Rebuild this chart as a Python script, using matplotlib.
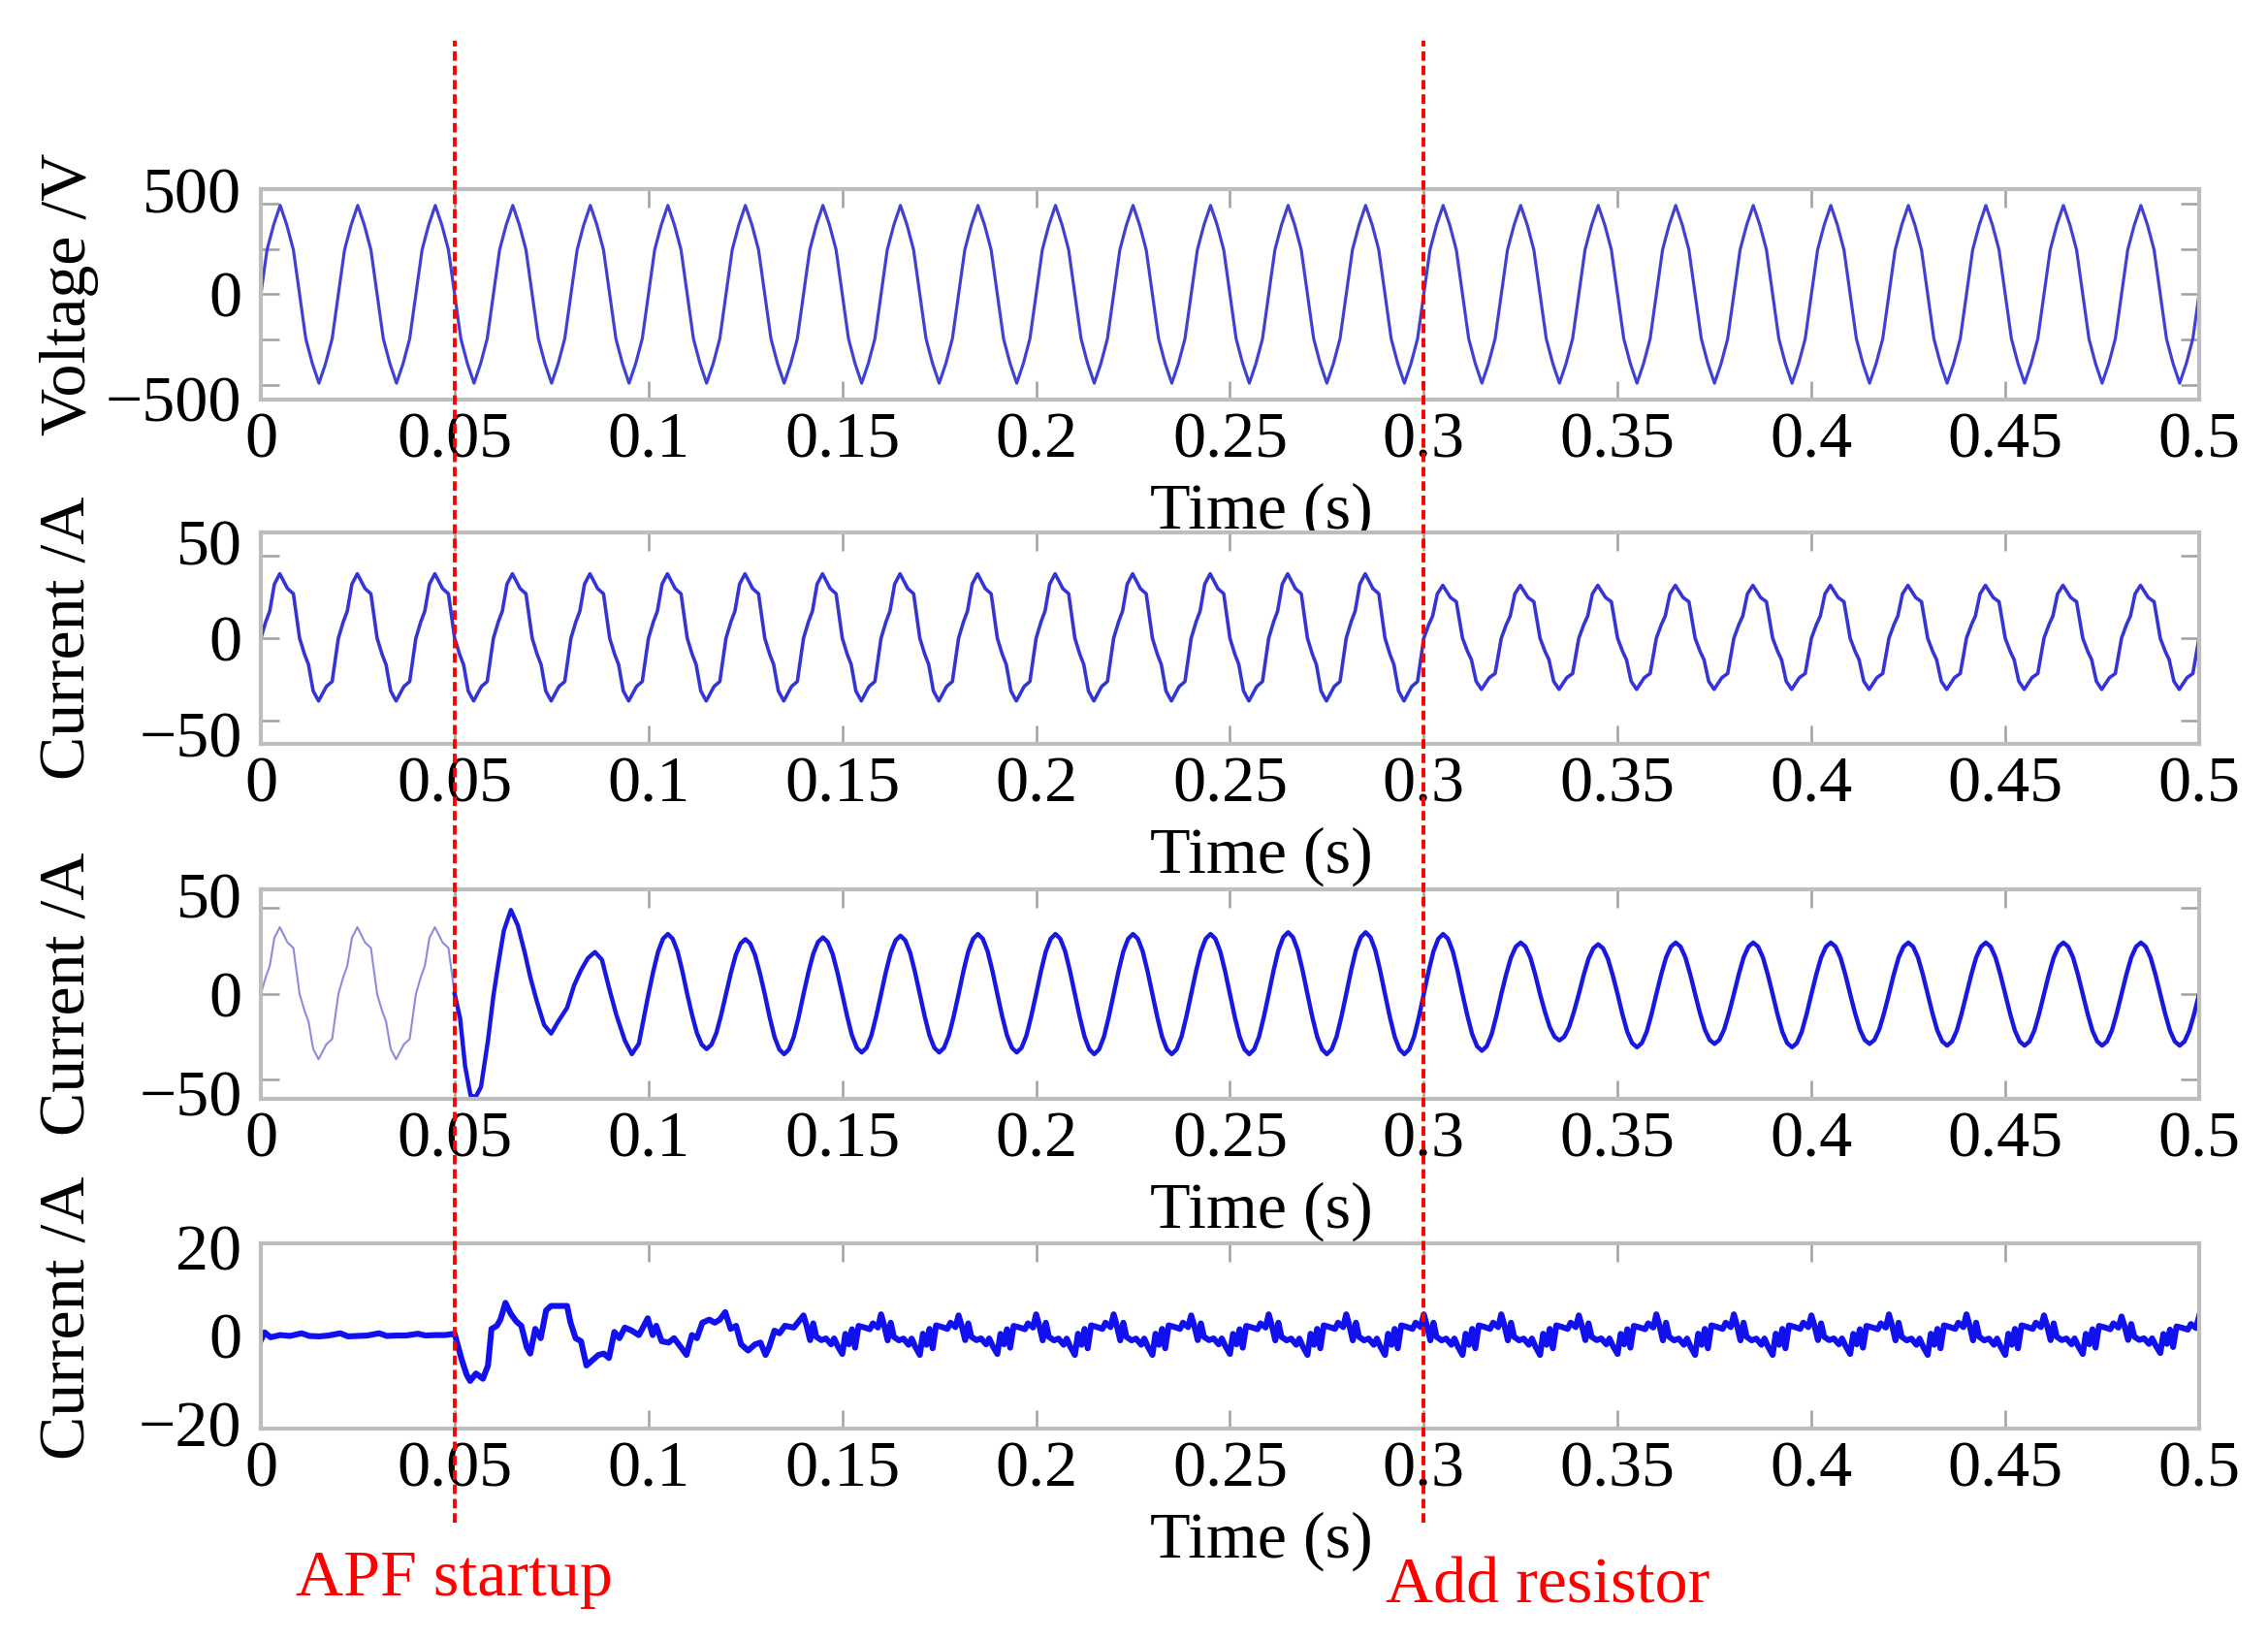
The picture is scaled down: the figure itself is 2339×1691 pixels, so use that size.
import numpy as np
import matplotlib.pyplot as plt
from matplotlib.lines import Line2D
from matplotlib.transforms import ScaledTranslation, blended_transform_factory

plt.rcParams['font.family'] = ['Liberation Serif', 'DejaVu Serif']
plt.rcParams['font.size'] = 49

PERIOD = 0.02  # 50 Hz grid

# ---- grid voltage: one period (ms, per unit of peak) ----
volt_shape_ms = [0, 1.6, 3.3, 5.0, 6.7, 8.4, 10.0, 11.6, 13.3, 15.0, 16.7, 18.4]
volt_shape_pu = [0, 0.5, 0.78, 1.0, 0.78, 0.5, 0, -0.5, -0.78, -1.0, -0.78, -0.5]
volt_pos_peak = [490, 490, 490, 490, 490, 490, 490, 490, 490, 490, 490, 490, 490,
                 490, 490, 490, 490, 490, 490, 490, 490, 490, 490, 490, 490]
volt_neg_peak = [490, 490, 490, 490, 490, 490, 490, 490, 490, 490, 490, 490, 490,
                 490, 490, 490, 490, 490, 490, 490, 490, 490, 490, 490, 490]

# ---- load current (rectifier load), one period shape + peaks per cycle ----
load_shape_ms = [0, 1.3, 2.3, 3.5, 4.9, 6.9, 8.4, 10.0, 11.3, 12.3, 13.5, 14.9, 16.9, 18.4]
load_shape_pu = [0, 0.26, 0.42, 0.84, 1.0, 0.77, 0.69, 0, -0.26, -0.42, -0.84, -1.0, -0.77, -0.69]
load_pos_peak = [39, 39, 39, 39, 39, 39, 39, 39, 39, 39, 39, 39, 39, 39, 39,
                 32, 32, 32, 32, 32, 32, 32, 32, 32, 32]
load_neg_peak = [38, 38, 38, 38, 38, 38, 38, 38, 38, 38, 38, 38, 38, 38, 38,
                 31, 31, 31, 31, 31, 31, 31, 31, 31, 31]

# ---- source current after APF startup ----
src_tr_ms = [50, 51.4, 52.7, 54.1, 55.4, 56.8, 58.6, 60.0, 61.3, 62.7, 64.5, 66.3, 68.1,
             69.5, 71.3, 73.1, 74.9, 76.7, 79.0, 80.8, 82.6, 84.4, 86.2, 88.0, 89.9,
             91.7, 93.9, 95.7, 97.5]
src_tr_a = [0, -14, -42, -59, -60, -54, -27, -1, 18, 37, 49, 40, 24, 10, -5, -18, -23,
            -16, -8, 5, 14, 21, 24.5, 20, 3, -12, -27, -35, -29]
src_shape_ms = [0, 1.25, 2.5, 3.75, 5.0, 6.25, 7.5, 8.75, 10.0, 11.25, 12.5, 13.75,
                15.0, 16.25, 17.5, 18.75]
src_shape_pu = [0, 0.38, 0.71, 0.92, 1.0, 0.92, 0.71, 0.38, 0, -0.38, -0.71, -0.92,
                -1.0, -0.92, -0.71, -0.38]
src_first_cycle = 5
src_pos_peak = [35, 32, 33, 34, 35, 35, 35, 35, 36, 36, 35, 30, 29, 30, 30, 30, 30, 30, 30, 30]
src_neg_peak = [32, 35, 34, 34, 34, 35, 35, 35, 35, 35, 33, 27, 31, 29, 31, 29, 30, 30, 30, 30]

# ---- compensation current ----
comp_tr_ms = [0, 1, 2.5, 5, 7.5, 10.5, 12.5, 15, 17.5, 20.5, 22.5, 25, 27.5, 30.5, 32.5,
              35, 37.5, 40.5, 42.5, 45, 47.5, 50,
              51.8, 53.1, 54.0, 55.5, 57.3, 58.6, 59.5, 60.9, 61.8, 63.1, 64.5, 65.9,
              67.2, 68.6, 69.5, 70.8, 72.2, 73.6, 74.9, 76.7, 79.0, 79.9, 81.2, 82.6,
              84.0, 85.3, 87.1, 88.5, 89.8, 91.2, 92.5, 93.9, 95.7, 97.5, 98.4, 99.8,
              101.1, 102.0, 103.4, 105.2, 106.6, 108.4, 109.8, 111.2, 112.5, 113.9,
              115.7, 117.1, 118.4, 119.8, 121.2, 122.6, 123.9, 125.7, 127.5, 128.9,
              130.2, 131.1, 132.5, 133.8, 135.2, 137.5]
comp_tr_a = [-1.0, 0.8, -0.3, 0.2, 0.0, 0.6, 0.0, -0.1, 0.1, 0.6, -0.1, 0.0, 0.1, 0.6, 0.0,
             0.1, 0.1, 0.5, 0.1, 0.2, 0.2, 0.5,
             -5.3, -8.8, -10.2, -8.5, -9.7, -6.7, 1.6, 2.3, 3.7, 7.5, 5.0, 3.3,
             2.3, -2.6, -4.0, 1.6, -0.5, 5.8, 6.8, 6.8, 6.8, 3.0, -0.5, -1.2,
             -6.7, -5.7, -4.3, -4.0, -5.0, 0.9, -0.5, 1.9, 1.2, 0.2, 1.6, 4.0,
             0.2, 2.3, -1.2, -1.5, -0.5, -2.6, -4.3, 0.2, -0.5, 3.0,
             3.7, 3.0, 3.7, 5.4, 1.6, 2.3, -1.9, -3.3, -1.9, -1.5,
             -4.3, -2.6, 1.2, 0.6, 2.3, 1.9]
ripple_shape_ms = [0, 0.8, 1.7, 2.5, 3.3, 4.6, 5.8, 7.1, 7.9, 8.8, 10.0, 10.8, 11.7,
                   12.5, 13.3, 14.2, 15.8, 17.1, 17.9, 19.2]
ripple_shape_a = [4.9, 2.4, -1.0, 3.0, -0.2, -1.0, -0.6, -2.0, -0.6, -2.4, -4.3, 0.5, -2.0,
                  1.6, -2.8, 2.4, 2.0, 1.6, 3.0, 2.0]
ripple_first_cycle = 7
ripple_scale = [0.95, 1.0, 0.95, 1.0, 1.0, 0.95, 1.0, 1.0, 1.0, 1.0, 0.95, 1.0,
                1.0, 0.95, 1.0, 1.0, 0.95, 0.9]

x_ticks = [0, 0.05, 0.1, 0.15, 0.2, 0.25, 0.3, 0.35, 0.4, 0.45, 0.5]
x_tick_labels = ['0', '0.05', '0.1', '0.15', '0.2', '0.25', '0.3', '0.35', '0.4', '0.45', '0.5']
t_startup = 0.05
t_resistor = 0.3


def build_cycles(first, shape_ms, shape_pu, pos, neg):
    t, y = [], []
    for k, (pp, nn) in enumerate(zip(pos, neg)):
        t0 = (first + k) * PERIOD
        for ms, pu in zip(shape_ms, shape_pu):
            t.append(t0 + ms / 1000)
            y.append(pu * (pp if pu > 0 else nn))
    t.append((first + len(pos)) * PERIOD)
    y.append(shape_pu[0] * pos[-1])
    return np.array(t), np.array(y)


t_volt, volt = build_cycles(0, volt_shape_ms, volt_shape_pu, volt_pos_peak, volt_neg_peak)
t_load, load = build_cycles(0, load_shape_ms, load_shape_pu, load_pos_peak, load_neg_peak)

# source current before startup is the load current itself
pre = t_load <= t_startup
t_src_pre, src_pre = t_load[pre], load[pre]
t_ss, src_ss = build_cycles(src_first_cycle, src_shape_ms, src_shape_pu, src_pos_peak, src_neg_peak)
t_src = np.concatenate([np.array(src_tr_ms) / 1000, t_ss])
src = np.concatenate([np.array(src_tr_a), src_ss])

t_rp, comp_rp = build_cycles(ripple_first_cycle, ripple_shape_ms, ripple_shape_a,
                             ripple_scale, ripple_scale)
t_comp = np.concatenate([np.array(comp_tr_ms) / 1000, t_rp])
comp = np.concatenate([np.array(comp_tr_a), comp_rp])

fig = plt.figure(figsize=(23.39, 16.91), dpi=100)

rects = [
    [0.1150, 0.7564, 0.8546, 0.1283],
    [0.1150, 0.5464, 0.8546, 0.1289],
    [0.1150, 0.3300, 0.8546, 0.1277],
    [0.1150, 0.1289, 0.8546, 0.1130],
]
axes = [fig.add_axes(r) for r in rects]
ax1, ax2, ax3, ax4 = axes

ax1.plot(t_volt, volt, color='#4040d4', lw=2.3)
ax2.plot(t_load, load, color='#3535d4', lw=2.6)
ax3.plot(t_src_pre, src_pre, color='#8c8cde', lw=1.5)
ax3.plot(t_src, src, color='#1818e0', lw=3.2)
ax4.plot(t_comp, comp, color='#1010f0', lw=4.4)

ylims = [(-580, 580), (-64, 64), (-61, 61), (-21, 21)]
yticks = [[-500, 0, 500], [-50, 0, 50], [-50, 0, 50], [-20, 0, 20]]
ylabels = ['Voltage /V', 'Current /A', 'Current /A', 'Current /A']
ylabel_y = [0.5, 0.5, 0.5, 0.6]

for ax, lim, yt, yl, ly in zip(axes, ylims, yticks, ylabels, ylabel_y):
    ax.set_xlim(0, 0.5)
    ax.set_ylim(*lim)
    ax.set_xticks(x_ticks)
    ax.set_xticklabels(x_tick_labels)
    ax.set_yticks(yt)
    for s in ax.spines.values():
        s.set_color('#bdbdbd')
        s.set_linewidth(3)
    ax.tick_params(direction='in', top=True, right=True, length=14, width=1.8,
                   color='#a0a0a0')
    ax.tick_params(axis='x', pad=9)
    ax.tick_params(axis='y', pad=14)
    ax.set_ylabel(yl, va='center')
    ax.yaxis.set_label_coords(-0.099, ly)
    ax.annotate('Time (s)', xy=(0.516, 0), xycoords='axes fraction',
                xytext=(0, -116), textcoords='offset pixels',
                ha='center', va='center')

ax1.set_yticks([-250, 250], minor=True)
ax1.tick_params(which='minor', direction='in', right=True, length=14, width=1.8,
                color='#a0a0a0')
ax4.tick_params(axis='y', length=0)

# end labels sit at the box edges, a little outside their ticks
for ax in axes[:3]:
    labs = ax.get_yticklabels()
    labs[-1].set_transform(labs[-1].get_transform()
                           + ScaledTranslation(0, 10 / 72, fig.dpi_scale_trans))
    labs[0].set_transform(labs[0].get_transform()
                          + ScaledTranslation(0, -10 / 72, fig.dpi_scale_trans))

# event markers running through all panels
trans = blended_transform_factory(ax4.transData, fig.transFigure)
for tx in (t_startup, t_resistor):
    fig.add_artist(Line2D([tx, tx], [0.0716, 0.975], transform=trans, color='red',
                          lw=2.8, dashes=(2.5, 1.3), zorder=10))

ax4.annotate('APF startup', xy=(t_startup, 0.0272), xycoords=trans,
             ha='center', va='baseline', color='red', annotation_clip=False)
ax4.annotate('Add resistor', xy=(t_resistor, 0.0225), xycoords=trans,
             xytext=(-39, 0), textcoords='offset pixels',
             ha='left', va='baseline', color='red', annotation_clip=False)

plt.savefig('out.png', dpi=100)
